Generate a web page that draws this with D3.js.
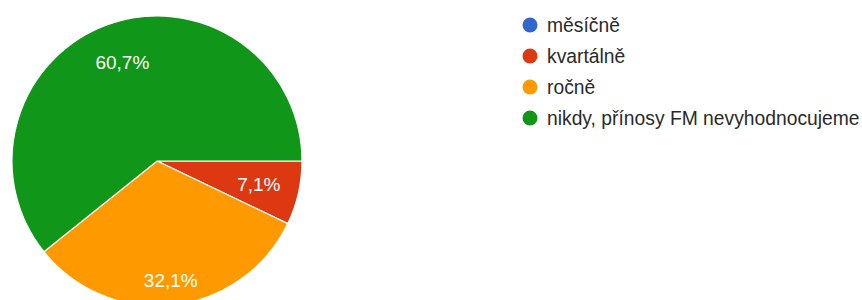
<!DOCTYPE html>
<html>
<head>
<meta charset="utf-8">
<script src="https://cdn.jsdelivr.net/npm/d3@7/dist/d3.min.js"></script>
<style>
  html, body { margin: 0; padding: 0; background: #fff; }
  svg { display: block; }
  text { font-family: "Liberation Sans", Arial, sans-serif; }
</style>
</head>
<body>
<svg id="chart" width="862" height="300"></svg>
<script>
const categories = ["měsíčně", "kvartálně", "ročně", "nikdy, přínosy FM nevyhodnocujeme"];
const values = [0, 7.1, 32.1, 60.7];
const labels = ["0%", "7,1%", "32,1%", "60,7%"];
const colors = ["#3366cc", "#dc3912", "#ff9900", "#109618"];

const svg = d3.select("#chart");
const cx = 157, cy = 161, r = 145;

const data = categories.map((c, i) => ({ cat: c, value: values[i], label: labels[i], color: colors[i] }));

const pie = d3.pie().sort(null).value(d => d.value)
  .startAngle(Math.PI / 2).endAngle(Math.PI / 2 + 2 * Math.PI);
const arcs = pie(data);
const arc = d3.arc().innerRadius(0).outerRadius(r);

const g = svg.append("g").attr("transform", `translate(${cx},${cy})`);
g.selectAll("path").data(arcs.filter(a => a.data.value > 0)).join("path")
  .attr("d", arc)
  .attr("fill", d => d.data.color)
  .attr("stroke", "#fff")
  .attr("stroke-width", 1.2);

const labelFrac = i => (i === 2 ? 0.83 : 0.72);
g.selectAll("text.lbl").data(arcs.filter(a => a.data.value > 0)).join("text")
  .attr("class", "lbl")
  .each(function (d) {
    const rr = r * labelFrac(d.index);
    const a = d3.arc().innerRadius(rr).outerRadius(rr);
    const [x, y] = a.centroid(d);
    d3.select(this).attr("x", x).attr("y", y);
  })
  .attr("text-anchor", "middle")
  .attr("dominant-baseline", "central")
  .attr("font-size", 19)
  .attr("fill", "#ffffff")
  .text(d => d.data.label);

const ly = d3.scalePoint().domain(categories).range([25, 118]);
const lg = svg.append("g");
const items = lg.selectAll("g").data(data).join("g")
  .attr("transform", d => `translate(530,${ly(d.cat)})`);
items.append("circle").attr("r", 7.5).attr("fill", d => d.color);
items.append("text")
  .attr("x", 17)
  .attr("dominant-baseline", "central")
  .attr("font-size", 19.3)
  .attr("fill", "#2a2a2a")
  .text(d => d.cat);
</script>
</body>
</html>
